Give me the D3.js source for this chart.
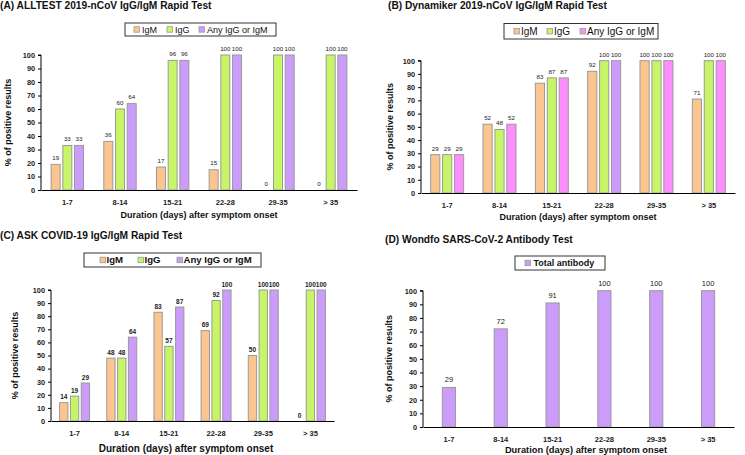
<!DOCTYPE html>
<html>
<head>
<meta charset="utf-8">
<script src="https://cdn.jsdelivr.net/npm/d3@7/dist/d3.min.js"></script>
<style>
  html, body { margin: 0; padding: 0; background: #fff; }
  svg { display: block; font-family: "Liberation Sans", Arial, sans-serif; }
</style>
</head>
<body>
<svg id="chart" width="745" height="455"></svg>
<script>
// ---------- DATA ----------
const categories = ["1-7", "8-14", "15-21", "22-28", "29-35", "> 35"];
const yTicks = [0, 10, 20, 30, 40, 50, 60, 70, 80, 90, 100];

const seriesNames = ["IgM", "IgG", "Any IgG or IgM"];

const alltestIgM = [19, 36, 17, 15, 0, 0];
const alltestIgG = [33, 60, 96, 100, 100, 100];
const alltestAny = [33, 64, 96, 100, 100, 100];

const dynamikerIgM = [29, 52, 83, 92, 100, 71];
const dynamikerIgG = [29, 48, 87, 100, 100, 100];
const dynamikerAny = [29, 52, 87, 100, 100, 100];

const askIgM = [14, 48, 83, 69, 50, 0];
const askIgG = [19, 48, 57, 92, 100, 100];
const askAny = [29, 64, 87, 100, 100, 100];

const wondfoNames = ["Total antibody"];
const wondfoTotal = [29, 72, 91, 100, 100, 100];

const titles = [
  "(A) ALLTEST 2019-nCoV IgG/IgM Rapid Test",
  "(B) Dynamiker 2019-nCoV IgG/IgM Rapid Test",
  "(C) ASK COVID-19 IgG/IgM Rapid Test",
  "(D) Wondfo SARS-CoV-2 Antibody Test"
];
const yTitle = "% of positive results";
const xTitle = "Duration (days) after symptom onset";

// ---------- STYLE ----------
const cOrange = "#fcc590", cGreen = "#c8f567", cPurple = "#cc9cfa", cPink = "#fd8efd";
const svg = d3.select("#chart");

function panel(cfg) {
  const g = svg.append("g");
  const y = d3.scaleLinear().domain([0, 100]).range([cfg.y0, cfg.y100]);
  const x0 = d3.scaleBand().domain(categories).range([cfg.xl, cfg.xr]);
  const bw = x0.bandwidth();
  const groupW = bw * cfg.groupFrac;
  const x1 = d3.scaleBand().domain(cfg.names).range([0, groupW]).paddingInner(0.23);

  // title
  g.append("text").attr("x", cfg.titleX).attr("y", cfg.titleY)
    .attr("font-size", 10.2).attr("font-weight", "bold").attr("fill", "#111")
    .text(cfg.title);

  // bars
  cfg.series.forEach((vals, si) => {
    const name = cfg.names[si];
    g.selectAll(null).data(vals).enter().append("rect")
      .attr("x", (d, i) => x0(categories[i]) + (bw - groupW) / 2 + x1(name))
      .attr("y", d => y(d))
      .attr("width", x1.bandwidth())
      .attr("height", d => y(0) - y(d))
      .attr("fill", (d, i) => cfg.colorFn ? cfg.colorFn(si, i) : cfg.colors[si])
      .attr("stroke", d => d > 0 ? "#9a9a9a" : "none")
      .attr("stroke-width", 1);
    g.selectAll(null).data(vals).enter().append("text")
      .attr("x", (d, i) => x0(categories[i]) + (bw - groupW) / 2 + x1(name) + x1.bandwidth() / 2)
      .attr("y", d => y(d) - cfg.labelGap)
      .attr("text-anchor", "middle")
      .attr("font-size", cfg.valueSize)
      .attr("font-weight", cfg.valueBold ? "bold" : "normal")
      .attr("fill", "#222")
      .text(d => d);
  });

  // y axis
  const yAxis = d3.axisLeft(y).tickValues(yTicks).tickSize(3).tickPadding(3);
  const ya = g.append("g").attr("transform", `translate(${cfg.xl},0)`).call(yAxis);
  ya.select(".domain").attr("stroke", "#000").attr("d", `M-3,${cfg.y100}H0V${cfg.y0}`);
  ya.selectAll(".tick line").attr("stroke", "#000");
  ya.selectAll(".tick text").attr("font-size", 7.3).attr("font-weight", "bold")
    .attr("font-family", "Liberation Sans, Arial, sans-serif").attr("fill", "#222");

  // x axis
  const xAxis = d3.axisBottom(x0).tickSize(0).tickPadding(cfg.xLabelPad);
  const xa = g.append("g").attr("transform", `translate(0,${cfg.y0})`).call(xAxis);
  xa.select(".domain").attr("stroke", "#000").attr("stroke-width", 1.2);
  xa.selectAll(".tick text").attr("font-size", 7.5).attr("font-weight", "bold")
    .attr("font-family", "Liberation Sans, Arial, sans-serif").attr("fill", "#222");

  // axis titles
  g.append("text").attr("x", cfg.xTitleX).attr("y", cfg.xTitleY)
    .attr("text-anchor", "middle").attr("font-size", cfg.xTitleSize).attr("font-weight", "bold")
    .attr("fill", "#111").text(xTitle);
  const ymid = (cfg.y0 + cfg.y100) / 2;
  g.append("text").attr("transform", `translate(${cfg.yTitleX},${ymid}) rotate(-90)`)
    .attr("text-anchor", "middle").attr("font-size", 9).attr("font-weight", "bold")
    .attr("fill", "#111").text(yTitle);

  // legend
  const L = cfg.legend;
  g.append("rect").attr("x", L.x).attr("y", L.y).attr("width", L.w).attr("height", L.h)
    .attr("fill", "#fff").attr("stroke", "#333").attr("stroke-width", 1);
  cfg.names.forEach((n, i) => {
    const cy = L.y + L.h / 2;
    g.append("rect").attr("x", L.sq[i]).attr("y", cy - 2.8).attr("width", 5.5).attr("height", 5.5)
      .attr("fill", cfg.colors[i]).attr("stroke", "#9a9a9a").attr("stroke-width", 0.8);
    g.append("text").attr("x", L.sq[i] + L.tOff).attr("y", cy + L.size * 0.36)
      .attr("font-size", L.size).attr("font-weight", L.bold ? "bold" : "normal")
      .attr("fill", "#111").text(n);
  });
}

panel({
  title: titles[0], titleX: 0, titleY: 8.5,
  names: seriesNames, series: [alltestIgM, alltestIgG, alltestAny],
  colors: [cOrange, cGreen, cPurple],
  xl: 41, xr: 357, y0: 190, y100: 55, groupFrac: 0.615,
  labelGap: 4.5, valueSize: 6.2, valueBold: false, xLabelPad: 10,
  xTitleX: 199, xTitleY: 218, xTitleSize: 9, yTitleX: 11,
  legend: { x: 125, y: 23, w: 151, h: 13, sq: [134, 167, 199], tOff: 8, size: 9, bold: false }
});

panel({
  title: titles[1], titleX: 388, titleY: 8.7,
  names: seriesNames, series: [dynamikerIgM, dynamikerIgG, dynamikerAny],
  colors: [cOrange, cGreen, cPink],
  colorFn: (si, i) => [cOrange, cGreen, (i === 3 ? cPurple : cPink)][si],
  xl: 421, xr: 735, y0: 193, y100: 60.7, groupFrac: 0.63,
  labelGap: 4, valueSize: 6.2, valueBold: false, xLabelPad: 10,
  xTitleX: 578, xTitleY: 220, xTitleSize: 9, yTitleX: 393,
  legend: { x: 504, y: 23.5, w: 154, h: 15.5, sq: [514, 547, 580], tOff: 7, size: 10, bold: false }
});

panel({
  title: titles[2], titleX: 0, titleY: 239.3,
  names: seriesNames, series: [askIgM, askIgG, askAny],
  colors: [cOrange, cGreen, cPurple],
  xl: 51, xr: 334, y0: 421, y100: 290, groupFrac: 0.635,
  labelGap: 3.5, valueSize: 6.5, valueBold: true, xLabelPad: 10,
  xTitleX: 186, xTitleY: 451.5, xTitleSize: 10, yTitleX: 18,
  legend: { x: 84, y: 253, w: 177, h: 14, sq: [100, 138, 177], tOff: 6.5, size: 9.6, bold: true }
});

panel({
  title: titles[3], titleX: 385, titleY: 243.3,
  names: wondfoNames, series: [wondfoTotal],
  colors: [cPurple],
  xl: 423, xr: 734, y0: 427, y100: 290.7, groupFrac: 0.33,
  labelGap: 5, valueSize: 7.5, valueBold: false, xLabelPad: 10,
  xTitleX: 586, xTitleY: 453, xTitleSize: 9.3, yTitleX: 392,
  legend: { x: 515, y: 256, w: 90, h: 14, sq: [525], tOff: 8.5, size: 9, bold: true }
});
</script>
</body>
</html>
